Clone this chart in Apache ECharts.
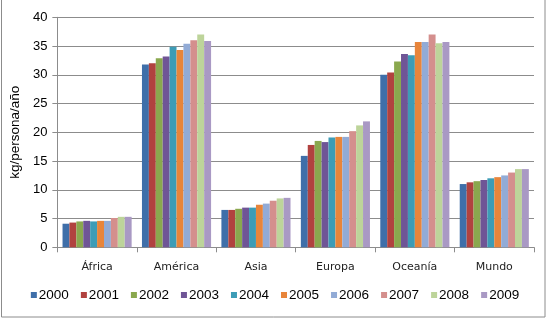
<!DOCTYPE html>
<html>
<head>
<meta charset="utf-8">
<script src="https://cdn.jsdelivr.net/npm/echarts@6/dist/echarts.min.js"></script>
<style>
html,body{margin:0;padding:0;background:#fff;}
#chart{width:550px;height:321px;}
</style>
</head>
<body>
<div id="chart"></div>
<script>
const categories = ['África', 'América', 'Asia', 'Europa', 'Oceanía', 'Mundo'];
const years = ['2000','2001','2002','2003','2004','2005','2006','2007','2008','2009'];
const yTicks = [0, 5, 10, 15, 20, 25, 30, 35, 40];
// values per year: [África, América, Asia, Europa, Oceanía, Mundo]
const v2000 = [4.1, 31.8, 6.5, 15.9, 30.0, 11.0];
const v2001 = [4.3, 32.0, 6.5, 17.8, 30.4, 11.3];
const v2002 = [4.5, 32.9, 6.7, 18.5, 32.3, 11.5];
const v2003 = [4.6, 33.2, 6.9, 18.3, 33.6, 11.7];
const v2004 = [4.5, 34.9, 6.9, 19.1, 33.4, 12.0];
const v2005 = [4.6, 34.3, 7.4, 19.2, 35.7, 12.2];
const v2006 = [4.6, 35.4, 7.6, 19.2, 35.7, 12.5];
const v2007 = [5.1, 36.0, 8.1, 20.2, 37.0, 13.0];
const v2008 = [5.3, 37.0, 8.5, 21.2, 35.5, 13.6];
const v2009 = [5.3, 35.9, 8.6, 21.9, 35.7, 13.6];
const seriesValues = [v2000, v2001, v2002, v2003, v2004, v2005, v2006, v2007, v2008, v2009];
const colors = ['#3f6fa9','#b1423f','#8aa84e','#6f5596','#3d9cb6','#e8853b','#92abd6','#d48f8d','#bdd49a','#a999c4'];

const chart = echarts.init(document.getElementById('chart'), null, {renderer:'canvas'});
chart.setOption({
  animation: false,
  color: colors,
  grid: {left: 54, top: 17.3, width: 480, height: 230},
  graphic: [{
    type: 'rect', shape: {x: 1.5, y: -5, width: 543.5, height: 322}, silent: true,
    style: {fill: 'none', stroke: '#8c8c8c', lineWidth: 1}
  }],
  legend: {
    data: years, bottom: 14, left: 'center',
    itemWidth: 6, itemHeight: 6, itemGap: 12,
    icon: 'rect',
    textStyle: {fontFamily: 'Liberation Sans, Arial', fontSize: 13.5, color: '#000', padding: [0,0,0,-3]}
  },
  xAxis: {
    type: 'category', data: categories,
    axisLine: {lineStyle: {color: '#8c8c8c', width: 1}},
    axisTick: {show: true, length: 5, lineStyle: {color: '#8c8c8c'}},
    axisLabel: {fontFamily: 'DejaVu Sans', fontSize: 11, color: '#222', margin: 14}
  },
  yAxis: {
    type: 'value', min: 0, max: 40, interval: 5,
    name: 'kg/persona/año', nameLocation: 'middle', nameGap: 32, nameRotate: 90,
    nameTextStyle: {fontFamily: 'Liberation Sans, Arial', fontSize: 13.5, color: '#000'},
    axisLine: {show: true, lineStyle: {color: '#8c8c8c', width: 1}},
    axisTick: {show: true, length: 5, lineStyle: {color: '#8c8c8c'}},
    axisLabel: {fontFamily: 'Liberation Sans, Arial', fontSize: 13, color: '#000', margin: 10,
      formatter: v => yTicks.includes(v) ? String(v) : ''},
    splitLine: {lineStyle: {color: '#8c8c8c', width: 1}}
  },
  series: years.map((y, i) => ({
    name: y, type: 'bar', data: seriesValues[i],
    barGap: '0%', barCategoryGap: '13%',
    itemStyle: {color: colors[i]}
  }))
});
</script>
</body>
</html>
